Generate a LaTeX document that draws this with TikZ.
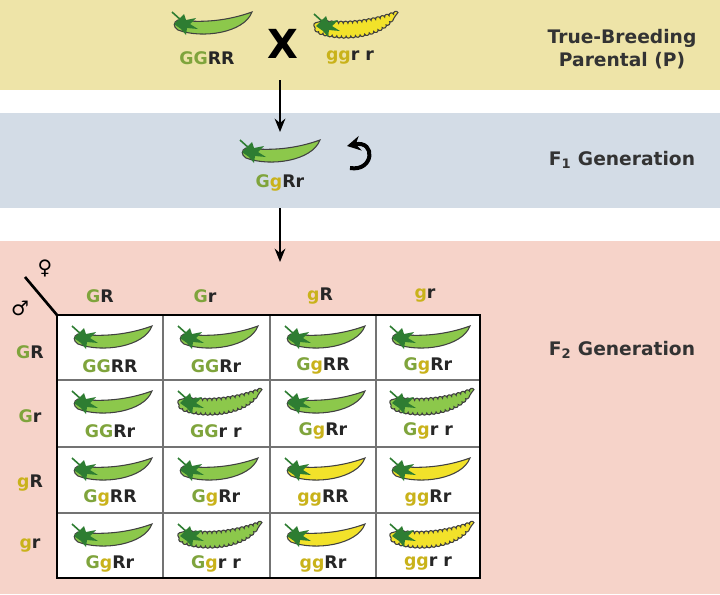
\documentclass[tikz,border=0pt]{standalone}
\usepackage{fontspec}
\setmainfont{DejaVu Sans}
\usetikzlibrary{decorations.pathmorphing,arrows.meta}
\definecolor{bandY}{HTML}{EEE4A8}
\definecolor{bandB}{HTML}{D3DCE6}
\definecolor{bandP}{HTML}{F6D3C9}
\definecolor{podG}{HTML}{8CC84B}
\definecolor{podY}{HTML}{F2E22A}
\definecolor{calyx}{HTML}{2E7D32}
\definecolor{letG}{HTML}{7FA43C}
\definecolor{letY}{HTML}{C9B21A}
\newcommand{\bigG}{\textcolor{letG}{G}}
\newcommand{\smg}{\textcolor{letY}{g}}
\tikzset{
 x=0.75pt,y=-0.75pt,
 podbody/.style={draw=black!75,line width=0.8pt},
 pics/pod/.style={code={
   \path[podbody,fill=#1] (-34,-5) .. controls (-10,-2) and (15,-4) .. (40,-13) .. controls (32,8) and (-10,14) .. (-34,5) .. controls (-39,2) and (-39,-3) .. (-34,-5) -- cycle;
   \draw[calyx,line width=1.2pt] (-30,-4) -- (-40,-13);
   \fill[calyx] (-38,-1) -- (-28,-11) -- (-26,-5) -- (-16,-7) -- (-22,-1) -- (-14,4) -- (-25,3) -- (-26,10) -- (-31,4) -- cycle;
 }},
 pics/wpod/.style={code={
   \path[podbody,fill=#1,decorate,decoration={bumps,segment length=7pt,amplitude=1.6pt}] (-34,-5) .. controls (-10,-2) and (15,-4) .. (40,-13) .. controls (32,8) and (-10,14) .. (-34,5) .. controls (-39,2) and (-39,-3) .. (-34,-5) -- cycle;
   \draw[calyx,line width=1.2pt] (-30,-4) -- (-40,-13);
   \fill[calyx] (-38,-1) -- (-28,-11) -- (-26,-5) -- (-16,-7) -- (-22,-1) -- (-14,4) -- (-25,3) -- (-26,10) -- (-31,4) -- cycle;
 }},
 geno/.style={font=\fontsize{13}{15}\selectfont\bfseries,text=black!85,inner sep=0pt},
 lab/.style={font=\fontsize{14}{17}\selectfont\bfseries,text=black!80,align=center},
 arr/.style={-{Stealth[length=10pt,width=8pt]},line width=1.5pt}
}
\begin{document}
\begin{tikzpicture}
\useasboundingbox (0,0) rectangle (720,594);
\fill[bandY] (0,0) rectangle (720,90);
\fill[bandB] (0,113) rectangle (720,208);
\fill[bandP] (0,241) rectangle (720,594);
% parental
\pic at (212,25) {pod=podG};
\node[geno] (p1) at (207,58) {\bigG\bigG RR};
\pic at (354,27) {wpod=podY};
\node[geno] (p2) at (350,58) {\smg\smg r r};
\node[font=\fontsize{30}{32}\selectfont\bfseries] (x) at (283,44) {X};
% F1
\coordinate (a1) at (280,80);
\coordinate (f1top) at (280,132);
\draw[arr] (a1) -- (f1top);
\pic at (280,153) {pod=podG};
\node[geno] (f1) at (280,183) {\bigG\smg Rr};
\coordinate (c0) at (350,168);
\coordinate (c1) at (347,146);
\draw[-{Stealth[length=10pt,width=11pt]},line width=3pt] (c0) .. controls (374,172) and (376,140) .. (c1);
\coordinate (a2) at (280,208);
\coordinate (f2top) at (280,262);
\draw[arr] (a2) -- (f2top);
% labels
\node[lab] (l1) at (622,49) {True-Breeding\\Parental (P)};
\node[lab] (l2) at (622,160) {F$_\mathbf{1}$ Generation};
\node[lab] (l3) at (622,350) {F$_\mathbf{2}$ Generation};
% punnett
\fill[white] (57,315) rectangle (480,578);
\foreach \xx in {163,270,376}{\draw[black!55,line width=1.2pt] (\xx,315) -- (\xx,578);}
\foreach \yy in {380,447,513}{\draw[black!55,line width=1.2pt] (57,\yy) -- (480,\yy);}
\draw[line width=2pt] (57,315) rectangle (480,578);
\coordinate (d1) at (25,277);
\coordinate (d2) at (57,315);
\draw[line width=2pt] (d1) -- (d2);
\node[font=\fontsize{15}{17}\selectfont] (fem) at (45,268) {♀};
\node[font=\fontsize{15}{17}\selectfont] (mal) at (20,308) {♂};
\foreach \t/\xx in {{\bigG R}/100,{\bigG r}/205,{\smg R}/320,{\smg r}/425}{\node[geno] at (\xx,296) {\t};}
\foreach \t/\yy in {{\bigG R}/352,{\bigG r}/416,{\smg R}/483,{\smg r}/546}{\node[geno] at (30,\yy) {\t};}
\foreach \t/\p/\xx/\yy in {
 {\bigG\bigG RR}/pod=podG/110/315, {\bigG\bigG Rr}/pod=podG/216/315, {\bigG\smg RR}/pod=podG/323/315, {\bigG\smg Rr}/pod=podG/428/315,
 {\bigG\bigG Rr}/pod=podG/110/380, {\bigG\bigG r r}/wpod=podG/216/380, {\bigG\smg Rr}/pod=podG/323/380, {\bigG\smg r r}/wpod=podG/428/380,
 {\bigG\smg RR}/pod=podG/110/447, {\bigG\smg Rr}/pod=podG/216/447, {\smg\smg RR}/pod=podY/323/447, {\smg\smg Rr}/pod=podY/428/447,
 {\bigG\smg Rr}/pod=podG/110/513, {\bigG\smg r r}/wpod=podG/216/513, {\smg\smg Rr}/pod=podY/323/513, {\smg\smg r r}/wpod=podY/428/513}{
 \edef\mypic{\noexpand\pic at (\xx+2,\yy+24) {\p};}\mypic
 \node[geno] at (\xx,\yy+51) {\t};
}
\end{tikzpicture}
\end{document}
